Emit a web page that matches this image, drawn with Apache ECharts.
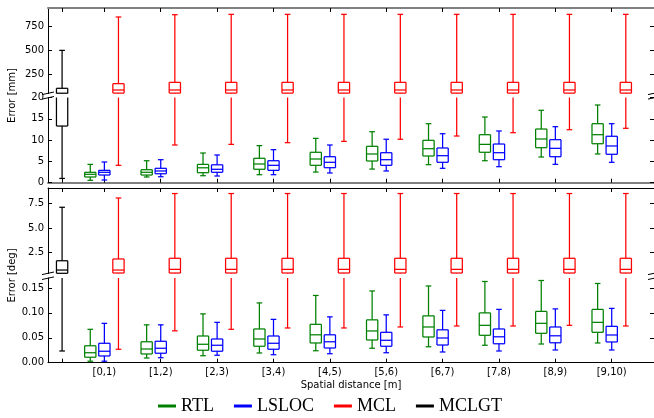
<!DOCTYPE html>
<html>
<head>
<meta charset="utf-8">
<script src="https://cdn.jsdelivr.net/npm/echarts@6/dist/echarts.min.js"></script>
<style>
  html, body { margin: 0; padding: 0; background: #fff; }
  #chart { width: 654px; height: 418px; }
</style>
</head>
<body>
<div id="chart"></div>
<script>
// Distance bins along the x axis
const categories = ['[0,1)', '[1,2)', '[2,3)', '[3,4)', '[4,5)', '[5,6)', '[6,7)', '[7,8)', '[8,9)', '[9,10)'];

// Box statistics per bin: [lower whisker, Q1, median, Q3, upper whisker]
// Position error in millimetres
const rtlMm = [
  [0.56, 1.34, 1.97, 2.44, 4.3],
  [1.34, 1.8, 2.44, 3.05, 5.16],
  [1.64, 2.35, 3.5, 4.3, 6.97],
  [1.88, 3.15, 4.39, 5.73, 8.7],
  [2.5, 4.08, 5.56, 7.14, 10.4],
  [3.2, 5.09, 6.74, 8.54, 11.97],
  [4.23, 6.27, 7.98, 9.95, 13.85],
  [5.16, 7.14, 9.0, 11.27, 15.42],
  [6.03, 8.22, 10.26, 12.6, 17.0],
  [6.74, 9.15, 11.27, 13.85, 18.24]
];
const lslocMm = [
  [0.63, 1.8, 2.44, 2.9, 4.86],
  [1.4, 2.1, 2.75, 3.38, 5.4],
  [1.57, 2.44, 3.15, 4.2, 6.5],
  [1.88, 2.9, 4.08, 5.16, 7.75],
  [2.28, 3.52, 4.79, 6.1, 8.85],
  [2.75, 4.08, 5.4, 7.04, 10.2],
  [3.38, 4.79, 6.34, 8.15, 11.5],
  [3.76, 5.4, 7.04, 9.08, 12.14],
  [4.31, 6.1, 8.07, 10.1, 13.15],
  [4.79, 6.67, 8.62, 10.9, 13.85]
];
const mclMm = [
  [4.08, 48, 81, 148, 853],
  [8.85, 48, 81, 162, 877],
  [9.0, 48, 81, 162, 881],
  [9.4, 48, 81, 162, 881],
  [9.7, 48, 81, 162, 881],
  [10.2, 48, 81, 162, 881],
  [10.96, 48, 81, 162, 881],
  [11.74, 48, 81, 162, 881],
  [12.44, 48, 81, 162, 881],
  [12.77, 48, 81, 162, 881]
];
const mclgtMm = [1.0, 13.3, 47, 99, 500];

// Orientation error in degrees
const rtlDeg = [
  [0.003, 0.011, 0.020, 0.034, 0.067],
  [0.0094, 0.0175, 0.0275, 0.042, 0.076],
  [0.014, 0.025, 0.037, 0.0536, 0.098],
  [0.0195, 0.033, 0.0476, 0.0677, 0.12],
  [0.024, 0.0396, 0.056, 0.077, 0.135],
  [0.029, 0.0456, 0.0637, 0.086, 0.144],
  [0.032, 0.0516, 0.0717, 0.094, 0.154],
  [0.035, 0.055, 0.075, 0.100, 0.163],
  [0.0375, 0.059, 0.079, 0.103, 0.165],
  [0.0396, 0.061, 0.081, 0.107, 0.159]
];
const lslocDeg = [
  [0.003, 0.0135, 0.023, 0.039, 0.079],
  [0.010, 0.019, 0.029, 0.043, 0.076],
  [0.015, 0.023, 0.035, 0.0476, 0.081],
  [0.016, 0.027, 0.039, 0.0536, 0.087],
  [0.018, 0.0295, 0.042, 0.056, 0.092],
  [0.020, 0.033, 0.045, 0.061, 0.096],
  [0.0215, 0.0355, 0.0496, 0.066, 0.105],
  [0.0235, 0.038, 0.052, 0.0677, 0.107],
  [0.0255, 0.040, 0.054, 0.0717, 0.108],
  [0.0255, 0.0416, 0.0556, 0.073, 0.109]
];
const mclDeg = [
  [0.027, 0.45, 0.75, 1.87, 8.04],
  [0.064, 0.45, 0.82, 1.94, 8.49],
  [0.067, 0.45, 0.82, 1.94, 8.49],
  [0.0697, 0.45, 0.82, 1.94, 8.49],
  [0.0697, 0.45, 0.82, 1.94, 8.49],
  [0.0717, 0.45, 0.82, 1.94, 8.49],
  [0.0737, 0.45, 0.82, 1.94, 8.49],
  [0.0737, 0.45, 0.82, 1.94, 8.49],
  [0.075, 0.45, 0.82, 1.94, 8.49],
  [0.0737, 0.45, 0.82, 1.94, 8.49]
];
const mclgtDeg = [0.0235, 0.42, 0.75, 1.69, 7.1];

// Tick values of the four (broken) y scales
const mmTicksHigh = [250, 500, 750];
const mmTicksLow = [0, 5, 10, 15, 20];
const degTicksHigh = [2.5, 5.0, 7.5];
const degTicksLow = [0, 0.05, 0.10, 0.15];

const COLORS = { RTL: '#008000', LSLOC: '#0000ff', MCL: '#ff0000', MCLGT: '#000000' };
const FONT = 'DejaVu Sans';

// Box slots: MCLGT at 0, then each bin holds RTL / LSLOC / MCL side by side
const groupPos = (i, slot) => 2 + 4 * i + slot;
const xTickPos = [0].concat(categories.map((_, i) => groupPos(i, 1)));

// Panel layout (pixels)
const PLOT_LEFT = 48, PLOT_WIDTH = 606;
const grids = [
  { top: 8, height: 85.5, min: 44, max: 948, ticks: mmTicksHigh, fmt: v => String(v) },
  { top: 97.5, height: 85.2, min: 0, max: 20, ticks: mmTicksLow, fmt: v => String(v) },
  { top: 188, height: 85.5, min: 0.4, max: 9.05, ticks: degTicksHigh, fmt: v => v.toFixed(1) },
  { top: 278, height: 84.7, min: 0, max: 0.17, ticks: degTicksLow, fmt: v => v.toFixed(2) }
];

// Matplotlib-like box & whisker drawn piecewise, cut at the panel edges
function renderBox(params, api) {
  const cs = params.coordSys;
  const top = cs.y, bottom = cs.y + cs.height;
  const color = api.visual('color');
  const x = api.value(0);
  const lo = api.value(1), q1 = api.value(2), med = api.value(3), q3 = api.value(4), hi = api.value(5);
  const px = api.coord([x, med])[0];
  const half = api.size([0.8, 0])[0] / 2;
  const capHalf = half / 2;
  const yOf = v => api.coord([x, v])[1];
  const style = { stroke: color, lineWidth: 1.25, fill: null };
  const children = [];
  function vseg(xx, y1, y2) {
    const a = Math.max(Math.min(y1, y2), top);
    const b = Math.min(Math.max(y1, y2), bottom);
    if (b > a) children.push({ type: 'line', shape: { x1: xx, y1: a, x2: xx, y2: b }, style });
  }
  function hseg(y, hw) {
    if (y >= top - 0.6 && y <= bottom + 0.6) {
      children.push({ type: 'line', shape: { x1: px - hw, y1: y, x2: px + hw, y2: y }, style });
    }
  }
  vseg(px, yOf(hi), yOf(q3));
  vseg(px, yOf(q1), yOf(lo));
  hseg(yOf(hi), capHalf);
  hseg(yOf(lo), capHalf);
  vseg(px - half, yOf(q1), yOf(q3));
  vseg(px + half, yOf(q1), yOf(q3));
  hseg(yOf(q3), half);
  hseg(yOf(q1), half);
  hseg(yOf(med), half);
  return { type: 'group', children };
}

function boxSeries(name, gridIdx, rows) {
  return {
    type: 'custom',
    name,
    xAxisIndex: gridIdx,
    yAxisIndex: gridIdx * 2,
    itemStyle: { color: COLORS[name] },
    renderItem: renderBox,
    encode: { x: 0, y: [1, 2, 3, 4, 5] },
    data: rows,
    silent: true,
    animation: false
  };
}

const series = [];
grids.forEach((g, gi) => {
  const isMm = gi < 2;
  const rtl = isMm ? rtlMm : rtlDeg;
  const lsloc = isMm ? lslocMm : lslocDeg;
  const mcl = isMm ? mclMm : mclDeg;
  const gt = isMm ? mclgtMm : mclgtDeg;
  series.push(boxSeries('RTL', gi, rtl.map((s, i) => [groupPos(i, 0)].concat(s))));
  series.push(boxSeries('LSLOC', gi, lsloc.map((s, i) => [groupPos(i, 1)].concat(s))));
  series.push(boxSeries('MCL', gi, mcl.map((s, i) => [groupPos(i, 2)].concat(s))));
  series.push(boxSeries('MCLGT', gi, [[0].concat(gt)]));
});

const spineGray = { color: '#808080', width: 2 };
const spineBlack = { color: '#000', width: 1 };

const xAxes = grids.map((g, gi) => ({
  type: 'value',
  gridIndex: gi,
  min: -1,
  max: 42,
  position: (gi % 2 === 0) ? 'top' : 'bottom',
  axisLine: { show: true, onZero: false, lineStyle: gi < 2 ? spineGray : spineBlack },
  axisTick: { show: true, inside: true, length: 4, customValues: xTickPos, lineStyle: { color: '#000', width: 1 } },
  axisLabel: gi === 3 ? {
    show: true,
    customValues: xTickPos.slice(1),
    formatter: v => categories[Math.round((v - 3) / 4)] || '',
    color: '#000', fontFamily: FONT, fontSize: 10, margin: 5
  } : { show: false },
  splitLine: { show: false }
}));

const yAxes = [];
grids.forEach((g, gi) => {
  yAxes.push({
    type: 'value', gridIndex: gi, position: 'left', min: g.min, max: g.max,
    axisLine: { show: true, onZero: false, lineStyle: spineBlack },
    axisTick: { show: true, inside: true, length: 4, customValues: g.ticks, lineStyle: { color: '#000', width: 1 } },
    axisLabel: { show: true, customValues: g.ticks, formatter: g.fmt, color: '#000', fontFamily: FONT, fontSize: 10, margin: 4 },
    splitLine: { show: false }
  });
  yAxes.push({
    type: 'value', gridIndex: gi, position: 'right', min: g.min, max: g.max,
    axisLine: { show: true, onZero: false, lineStyle: spineBlack },
    axisTick: { show: true, inside: true, length: 4, customValues: g.ticks, lineStyle: { color: '#000', width: 1 } },
    axisLabel: { show: false },
    splitLine: { show: false }
  });
});

// Diagonal cut marks where each panel's scale is broken
function breakMarks(edgeY) {
  const out = [];
  [PLOT_LEFT, PLOT_LEFT + PLOT_WIDTH].forEach(x0 => {
    out.push({
      type: 'line',
      shape: { x1: x0 - 6, y1: edgeY + 1.3, x2: x0 + 6, y2: edgeY - 1.3 },
      style: { stroke: '#000', lineWidth: 1 },
      silent: true
    });
  });
  return out;
}

const graphics = []
  .concat(breakMarks(93.3))
  .concat(breakMarks(97.8))
  .concat(breakMarks(273.3))
  .concat(breakMarks(278.2))
  .concat([
    { type: 'text', x: 12.5, y: 95.5, rotation: Math.PI / 2,
      style: { text: 'Error [mm]', font: '10px "DejaVu Sans"', fill: '#000', align: 'center', verticalAlign: 'middle' } },
    { type: 'text', x: 12.5, y: 275.5, rotation: Math.PI / 2,
      style: { text: 'Error [deg]', font: '10px "DejaVu Sans"', fill: '#000', align: 'center', verticalAlign: 'middle' } },
    { type: 'text', x: PLOT_LEFT + PLOT_WIDTH / 2, y: 385,
      style: { text: 'Spatial distance [m]', font: '10px "DejaVu Sans"', fill: '#000', align: 'center', verticalAlign: 'middle' } }
  ]);

const chart = echarts.init(document.getElementById('chart'), null, { renderer: 'canvas' });
chart.setOption({
  animation: false,
  backgroundColor: '#fff',
  grid: grids.map(g => ({ left: PLOT_LEFT, width: PLOT_WIDTH, top: g.top, height: g.height, containLabel: false })),
  xAxis: xAxes,
  yAxis: yAxes,
  legend: {
    left: 158,
    top: 397,
    padding: 0,
    icon: 'rect',
    itemWidth: 18,
    itemHeight: 3,
    itemGap: 20,
    textStyle: { fontFamily: 'Liberation Serif', fontSize: 18, color: '#000' },
    data: ['RTL', 'LSLOC', 'MCL', 'MCLGT'].map(n => ({ name: n, itemStyle: { color: COLORS[n] } }))
  },
  graphic: graphics,
  series
});
</script>
</body>
</html>
